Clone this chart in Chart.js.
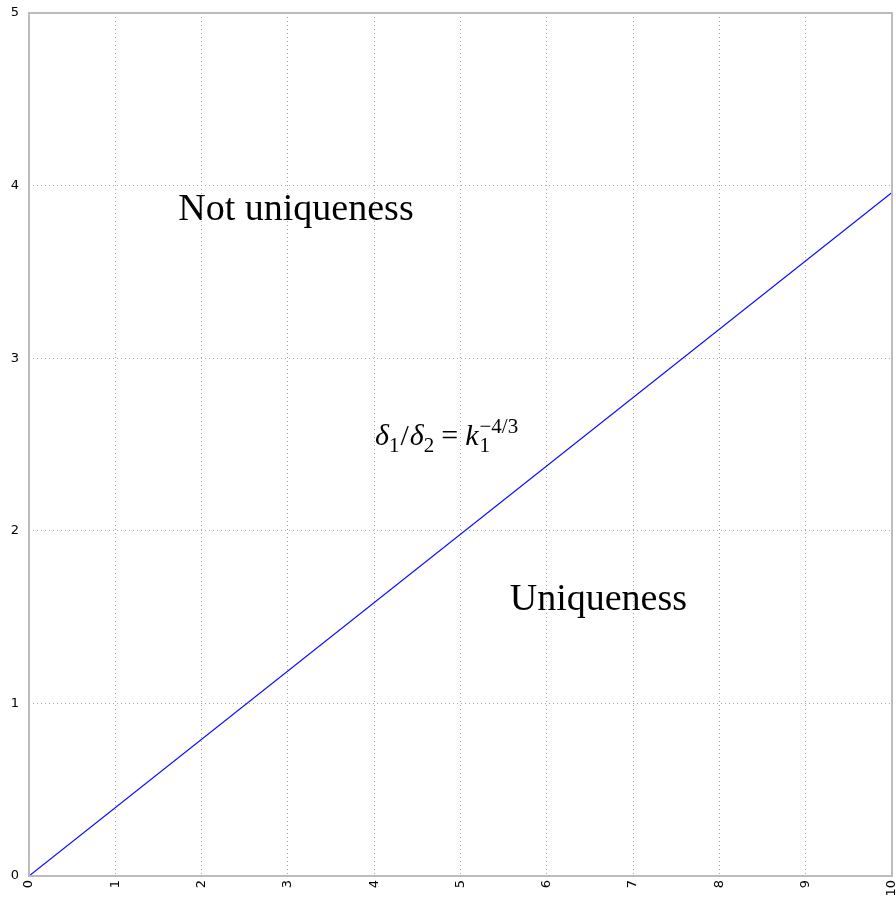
<!DOCTYPE html>
<html>
<head>
<meta charset="utf-8">
<script src="https://cdn.jsdelivr.net/npm/chart.js@4"></script>
<style>
  html, body { margin: 0; padding: 0; background: #fff; }
  #wrap { width: 896px; height: 904px; }
</style>
</head>
<body>
<div id="wrap"><canvas id="uniqChart" width="896" height="904"></canvas></div>
<script>
// boundary line delta1/delta2 = k1^(-4/3)
const lineX = [0, 10];
const lineY = [0, 3.96];
const xTicks = [0, 1, 2, 3, 4, 5, 6, 7, 8, 9, 10];
const yTicks = [0, 1, 2, 3, 4, 5];
// region labels, placed in data coordinates (baseline)
const labelText = ['Not uniqueness', 'Uniqueness'];
const labelX = [1.73, 5.57];
const labelY = [3.80, 1.54];

const frame = {
  id: 'frame',
  afterDraw(chart) {
    const { ctx, chartArea: a, scales } = chart;
    ctx.save();
    ctx.strokeStyle = '#bcbcbc';
    ctx.lineWidth = 2;
    ctx.strokeRect(a.left, a.top, a.right - a.left, a.bottom - a.top);

    ctx.fillStyle = '#000';
    ctx.textBaseline = 'alphabetic';
    ctx.textAlign = 'left';
    ctx.font = '38px "Liberation Serif", "Times New Roman", serif';
    labelText.forEach((t, i) => {
      ctx.fillText(t, scales.x.getPixelForValue(labelX[i]), scales.y.getPixelForValue(labelY[i]));
    });

    // formula
    let x = scales.x.getPixelForValue(4.01);
    const y = scales.y.getPixelForValue(2.497);
    const it = 'italic 30px "Liberation Serif", serif';
    const rm = '30px "Liberation Serif", serif';
    const sm = '21px "Liberation Serif", serif';
    const parts = [
      [it, '\u03B4', 0, 0], [sm, '1', 7, 1], [rm, '/', 0, 1], [it, '\u03B4', 0, 0], [sm, '2', 7, 7],
      [rm, '=', 0, 7], [it, 'k', 0, 1], [sm, '1', 7, 0], [sm, '\u22124/3', -12, 0]
    ];
    let kx = 0;
    parts.forEach((p, i) => {
      ctx.font = p[0];
      if (i === 8) x = kx;
      ctx.fillText(p[1], x, y + p[2]);
      if (i === 6) kx = x + ctx.measureText(p[1]).width + 1;
      x += ctx.measureText(p[1]).width + p[3];
    });
    ctx.restore();
  }
};

const ctx = document.getElementById('uniqChart').getContext('2d');
new Chart(ctx, {
  type: 'scatter',
  data: {
    datasets: [{
      data: lineX.map((v, i) => ({ x: v, y: lineY[i] })),
      showLine: true,
      borderColor: '#0a0aff',
      borderWidth: 1.2,
      pointRadius: 0,
      fill: false
    }]
  },
  options: {
    responsive: false,
    animation: false,
    layout: { padding: { top: 13, right: 4, left: 0, bottom: 0 } },
    plugins: { legend: { display: false }, tooltip: { enabled: false } },
    scales: {
      x: {
        type: 'linear',
        min: 0,
        max: 10,
        afterFit(s) { s.height = 28; s.paddingRight = 0; s.paddingLeft = 0; },
        afterBuildTicks(s) { s.ticks = xTicks.map(v => ({ value: v })); },
        grid: { color: '#a8a8a8', drawTicks: false },
        border: { display: false, dash: [1, 3] },
        ticks: {
          color: '#000',
          minRotation: 90,
          maxRotation: 90,
          padding: 4,
          font: { family: 'DejaVu Sans', size: 13 }
        }
      },
      y: {
        min: 0,
        max: 5,
        afterFit(s) { s.width = 29; s.paddingTop = 0; s.paddingBottom = 0; },
        afterBuildTicks(s) { s.ticks = yTicks.map(v => ({ value: v })); },
        grid: { color: '#a8a8a8', drawTicks: false },
        border: { display: false, dash: [1, 3] },
        ticks: {
          color: '#000',
          padding: 10,
          font: { family: 'DejaVu Sans', size: 13 }
        }
      }
    }
  },
  plugins: [frame]
});
</script>
</body>
</html>
